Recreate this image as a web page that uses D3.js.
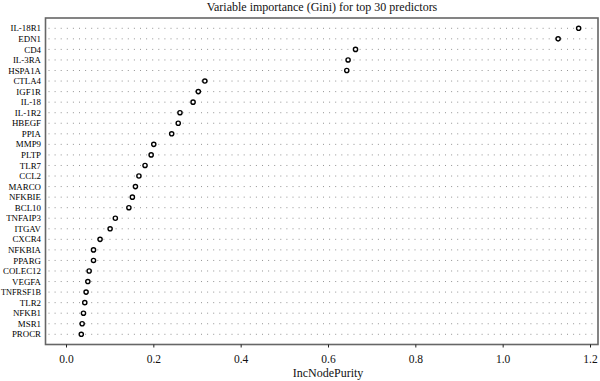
<!DOCTYPE html>
<html><head><meta charset="utf-8">
<script src="https://cdn.jsdelivr.net/npm/d3@7"></script>
<style>body{margin:0;background:#fff}svg{display:block}</style>
</head><body>
<svg id="c" width="600" height="381"></svg>
<script>
const predictors = ["IL-18R1","EDN1","CD4","IL-3RA","HSPA1A","CTLA4","IGF1R","IL-18","IL-1R2","HBEGF","PPIA","MMP9","PLTP","TLR7","CCL2","MARCO","NFKBIE","BCL10","TNFAIP3","ITGAV","CXCR4","NFKBIA","PPARG","COLEC12","VEGFA","TNFRSF1B","TLR2","NFKB1","MSR1","PROCR"];
const importance = [1.174,1.127,0.663,0.646,0.643,0.318,0.303,0.291,0.261,0.257,0.242,0.201,0.195,0.181,0.167,0.159,0.152,0.144,0.113,0.101,0.078,0.063,0.063,0.053,0.050,0.046,0.043,0.040,0.037,0.035];
const xTicks = [0,0.2,0.4,0.6,0.8,1.0,1.2];
const title = "Variable importance (Gini) for top 30 predictors";
const xLabel = "IncNodePurity";

const font = "'Liberation Serif','DejaVu Serif',serif";
const svg = d3.select("#c");
const box = {l:45.5, t:18, r:598, b:344.5};
const x = d3.scaleLinear().domain([0,1.2]).range([66,590]);
const y = d3.scalePoint().domain(predictors).range([28.3,334.3]);

svg.append("text").attr("x",322).attr("y",11).attr("text-anchor","middle")
  .attr("font-family",font).attr("font-size",12).attr("fill","#111").text(title);

// dotted lines
svg.append("g").selectAll("line").data(predictors).join("line")
  .attr("x1",box.l+3).attr("x2",box.r-1)
  .attr("y1",d=>y(d)).attr("y2",d=>y(d))
  .attr("stroke","#888").attr("stroke-width",0.9).attr("stroke-dasharray","1,5.1");

// box
svg.append("rect").attr("x",box.l).attr("y",box.t).attr("width",box.r-box.l).attr("height",box.b-box.t)
  .attr("fill","none").attr("stroke","#666").attr("stroke-width",1.6);

// y labels
const labX = box.l-4.5;
svg.append("g").selectAll("text").data(predictors).join("text")
  .attr("x",labX).attr("y",d=>y(d)).attr("dy","0.35em").attr("text-anchor","end")
  .attr("font-family",font).attr("font-size",8.9).attr("fill","#000").text(d=>d)
  .each(function(){
    const w = this.getComputedTextLength();
    const avail = labX - 1;
    if (w > avail) { d3.select(this).attr("textLength",avail).attr("lengthAdjust","spacingAndGlyphs"); }
  });

// x axis
const ax = svg.append("g").attr("transform",`translate(0,${box.b})`)
  .call(d3.axisBottom(x).tickValues(xTicks).tickFormat(d3.format(".1f")).tickSize(3).tickSizeOuter(0));
ax.select(".domain").remove();
ax.selectAll("line").attr("stroke","#222").attr("stroke-width",1);
ax.selectAll("text").attr("font-family",font).attr("font-size",11.5).attr("fill","#111").attr("dy","1.1em");

svg.append("text").attr("x",328).attr("y",377).attr("text-anchor","middle")
  .attr("font-family",font).attr("font-size",12).attr("fill","#111").text(xLabel);

// points
svg.append("g").selectAll("circle").data(predictors).join("circle")
  .attr("cx",(d,i)=>x(importance[i])).attr("cy",d=>y(d)).attr("r",2.1)
  .attr("fill","#fff").attr("stroke","#000").attr("stroke-width",1.4);
</script>
</body></html>
